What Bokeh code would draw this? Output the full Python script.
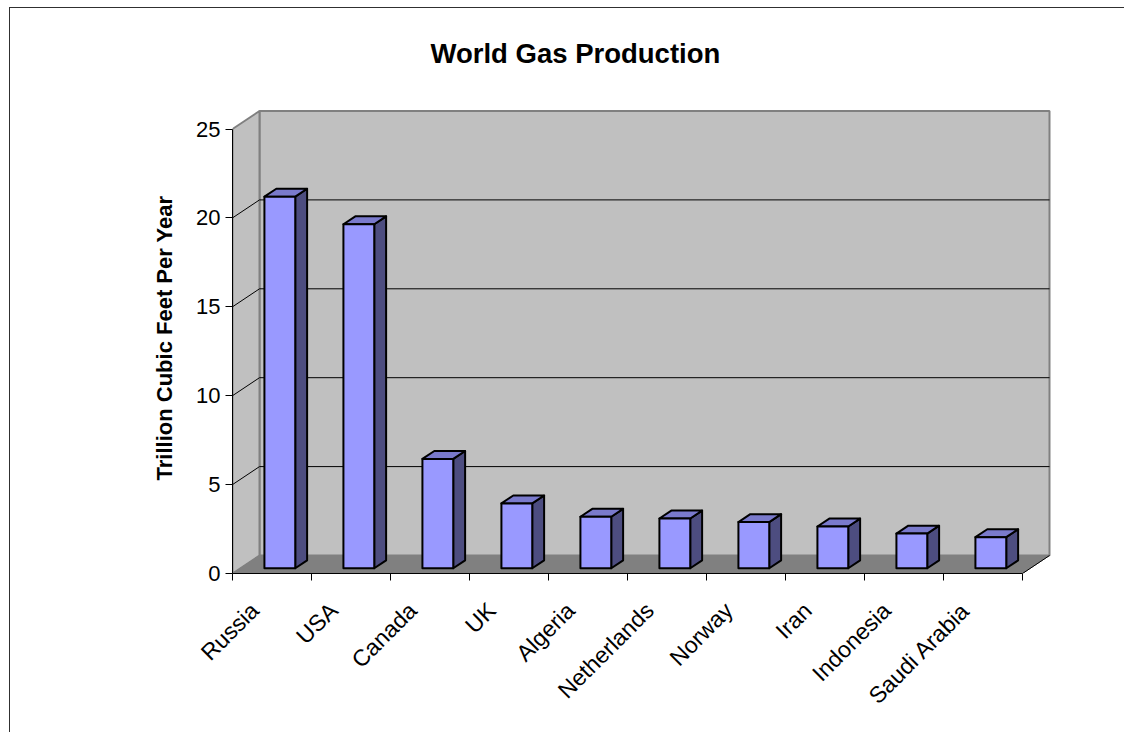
from math import pi
from bokeh.plotting import figure
from bokeh.models import Range1d, LinearAxis, FixedTicker, InlineStyleSheet
from bokeh.embed import file_html
from bokeh.resources import INLINE

# ---- data ----
countries = ["Russia", "USA", "Canada", "UK", "Algeria", "Netherlands",
             "Norway", "Iran", "Indonesia", "Saudi Arabia"]
production = [20.9, 19.35, 6.15, 3.65, 2.9, 2.8, 2.6, 2.35, 1.95, 1.75]
y_ticks = [0, 5, 10, 15, 20, 25]

# ---- 3D geometry (in data units) ----
PX, PY = 79.0, 17.78          # pixels per unit
DX, DY = 27 / PX, 18 / PY     # depth offset of back wall
F0, F1 = 0.29, 0.73           # bar depth span (fraction of depth)
BAR_W = 0.39
n = len(countries)
YMAX = y_ticks[-1]

FONT = "Liberation Sans"

p = figure(width=1124, height=732,
           x_range=Range1d(0, 828 / PX), y_range=Range1d(0, 471 / PY),
           output_backend="svg", toolbar_location=None,
           x_axis_location=None, y_axis_location=None,
           min_border_left=232, min_border_right=64,
           min_border_top=102, min_border_bottom=159)
# chart-area border (top and left edges visible in the window)
p.stylesheets = [InlineStyleSheet(css=(
    ":host::after {content: ''; position: absolute; left: 9px; top: 7px; "
    "right: 0px; bottom: 0px; border-left: 1.5px solid #303030; "
    "border-top: 1.5px solid #303030; pointer-events: none; z-index: 10;}"))]
p.grid.visible = False
p.outline_line_color = None
p.background_fill_color = "white"
p.border_fill_color = "white"

# title
p.title.text = "World Gas Production"
p.title.text_font = FONT
p.title.text_font_size = "27.5px"
p.title.text_font_style = "bold"
p.title.text_color = "black"
p.title.align = "left"
p.title.offset = 198
p.title.standoff = 68

# walls and floor
p.patch([DX, n + DX, n + DX, DX], [DY, DY, YMAX + DY, YMAX + DY],
        fill_color="#C0C0C0", line_color="#808080", line_width=2)
p.patch([0, DX, DX, 0], [0, DY, YMAX + DY, YMAX],
        fill_color="#C0C0C0", line_color="#808080", line_width=2)
p.patch([0, n, n + DX, DX], [0, 0, DY, DY],
        fill_color="#808080", line_color="#808080", line_width=1)

# gridlines
gx, gy = [], []
for v in y_ticks[1:-1]:
    gx.append([0, DX, n + DX])
    gy.append([v, v + DY, v + DY])
p.multi_line(gx, gy, line_color="black", line_width=1)
p.line([n, n + DX], [0, DY], line_color="black", line_width=1)

# bars
fx, fy, tx, ty, sx, sy = [], [], [], [], [], []
dd = (F1 - F0) * DX
for i, v in enumerate(production):
    c = i + 0.5
    x0 = c - BAR_W / 2 + F0 * DX
    x1 = c + BAR_W / 2 + F0 * DX
    yb0, yb1 = F0 * DY, F1 * DY
    fx.append([x0, x1, x1, x0]); fy.append([yb0, yb0, v + yb0, v + yb0])
    tx.append([x0, x1, x1 + dd, x0 + dd]); ty.append([v + yb0, v + yb0, v + yb1, v + yb1])
    sx.append([x1, x1 + dd, x1 + dd, x1]); sy.append([yb0, yb1, v + yb1, v + yb0])
p.patches(sx, sy, fill_color="#4D4D80", line_color="black", line_width=2, line_join="round")
p.patches(tx, ty, fill_color="#7A7ACC", line_color="black", line_width=2, line_join="round")
p.patches(fx, fy, fill_color="#9999FF", line_color="black", line_width=2, line_join="round")

# y axis
yax = LinearAxis(ticker=FixedTicker(ticks=y_ticks), bounds=(0, YMAX),
                 axis_label="Trillion Cubic Feet Per Year",
                 axis_label_text_font=FONT, axis_label_text_font_size="22px",
                 axis_label_text_font_style="bold", axis_label_standoff=16,
                 axis_label_text_color="black",
                 major_label_text_font=FONT, major_label_text_font_size="22px",
                 major_label_text_color="black",
                 major_label_standoff=5, major_tick_out=7, major_tick_in=0,
                 minor_tick_line_color=None, axis_line_color="black",
                 major_tick_line_color="black")
p.add_layout(yax, "left")

# x axis: tick marks at category boundaries
xax1 = LinearAxis(ticker=FixedTicker(ticks=list(range(n + 1))), bounds=(0, n),
                  major_label_overrides={i: "" for i in range(n + 1)},
                  major_label_text_font_size="1px", major_label_standoff=0,
                  major_tick_out=7, major_tick_in=0, minor_tick_line_color=None,
                  axis_line_color="black", major_tick_line_color="black")
p.add_layout(xax1, "below")

# x axis: category labels
label_pos = [i + 0.28 for i in range(n)]
xax2 = LinearAxis(ticker=FixedTicker(ticks=label_pos),
                  major_label_overrides={c: name for c, name in zip(label_pos, countries)},
                  major_label_orientation=pi / 4,
                  major_label_text_font=FONT, major_label_text_font_size="23px",
                  major_label_text_color="black",
                  major_label_standoff=26,
                  axis_line_color=None, major_tick_line_color=None,
                  minor_tick_line_color=None, major_tick_out=0, major_tick_in=0)
p.add_layout(xax2, "below")

open("out.html", "w").write(file_html(p, INLINE))
